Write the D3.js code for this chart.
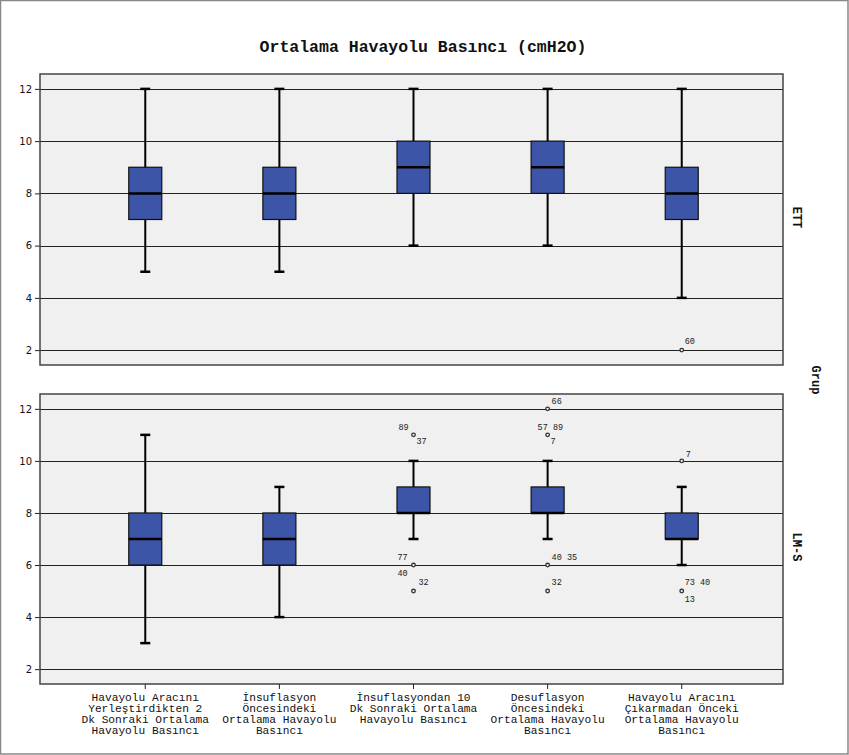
<!DOCTYPE html>
<html><head><meta charset="utf-8">
<script src="https://cdn.jsdelivr.net/npm/d3@7"></script>
<style>body{margin:0;background:#fff}svg{display:block}</style>
</head><body><svg id="c" width="849" height="755"></svg>
<script>
const title = "Ortalama Havayolu Basıncı (cmH2O)";
const categories = [
  ["Havayolu Aracını","Yerleştirdikten 2","Dk Sonraki Ortalama","Havayolu Basıncı"],
  ["İnsuflasyon","Öncesindeki","Ortalama Havayolu","Basıncı"],
  ["İnsuflasyondan 10","Dk Sonraki Ortalama","Havayolu Basıncı"],
  ["Desuflasyon","Öncesindeki","Ortalama Havayolu","Basıncı"],
  ["Havayolu Aracını","Çıkarmadan Önceki","Ortalama Havayolu","Basıncı"]
];
const groups = ["ETT","LM-S"];
const groupTitle = "Grup";
const yTicks = [2,4,6,8,10,12];
// [whiskerLow, q1, median, q3, whiskerHigh]
const ettStats = [[5,7,8,9,12],[5,7,8,9,12],[6,8,9,10,12],[6,8,9,10,12],[4,7,8,9,12]];
const lmsStats = [[3,6,7,8,11],[4,6,7,8,9],[7,8,8,9,10],[7,8,8,9,10],[6,7,7,8,9]];
// outliers: [categoryIndex, value, labelsAbove, labelsBelow]
const ettOutliers = [[4,2,"60",""]];
const lmsOutliers = [
  [2,11,"89","37"],[2,6,"77","40"],[2,5,"32",""],
  [3,12,"66",""],[3,11,"57 89","7"],[3,6,"40 35",""],[3,5,"32",""],
  [4,10,"7",""],[4,5,"73 40","13"]
];
// label offsets (layout only)
const labelLayout = {
  "0-4-2":{a:[3,-6]},
  "1-2-11":{a:[-15,-5],b:[3,9]},
  "1-2-6":{a:[-16,-5],b:[-16,11]},
  "1-2-5":{a:[5,-6]},
  "1-3-12":{a:[4,-5]},
  "1-3-11":{a:[-10,-5],b:[3,9]},
  "1-3-6":{a:[4,-5]},
  "1-3-5":{a:[4,-6]},
  "1-4-10":{a:[4,-4]},
  "1-4-5":{a:[3,-6],b:[3,11]}
};

const svg = d3.select("#c");
const mono = "'Liberation Mono','DejaVu Sans Mono',monospace";
svg.append("rect").attr("x",0.5).attr("y",0.5).attr("width",847.5).attr("height",753.5)
  .attr("fill","#fff").attr("stroke","#888").attr("stroke-width",1.5);

svg.append("text").attr("x",423).attr("y",52).attr("text-anchor","middle")
  .attr("font-family",mono).attr("font-weight","bold").attr("font-size",16.5).attr("fill","#111").text(title);

const left=40,right=783;
const x = d3.scalePoint().domain(d3.range(categories.length)).range([left+2,right+2]).padding(0.77);
const panels=[{top:74,bottom:365,stats:ettStats,out:ettOutliers},{top:394,bottom:684,stats:lmsStats,out:lmsOutliers}];
const boxW=33, capW=10;

panels.forEach((p,gi)=>{
  const y = d3.scaleLinear().domain([1.43,12.57]).range([p.bottom,p.top]);
  const g = svg.append("g");
  g.append("rect").attr("x",left).attr("y",p.top).attr("width",right-left).attr("height",p.bottom-p.top)
    .attr("fill","#f0f0f0");
  g.selectAll(".grid").data(yTicks).join("line")
    .attr("x1",left).attr("x2",right).attr("y1",d=>Math.round(y(d))+0.5).attr("y2",d=>Math.round(y(d))+0.5)
    .attr("stroke","#222").attr("stroke-width",1);
  const ax = g.append("g").attr("transform",`translate(${left},0)`)
    .call(d3.axisLeft(y).tickValues(yTicks).tickSize(5).tickPadding(3));
  ax.select(".domain").remove();
  ax.selectAll("text").attr("font-family","'DejaVu Sans',sans-serif").attr("font-size",10).attr("fill","#111");
  ax.selectAll("line").attr("stroke","#222");
  p.stats.forEach((s,i)=>{
    const cx = x(i);
    g.append("line").attr("x1",cx).attr("x2",cx).attr("y1",y(s[0])).attr("y2",y(s[4]))
      .attr("stroke","#000").attr("stroke-width",2);
    [s[0],s[4]].forEach(v=>g.append("line").attr("x1",cx-capW/2).attr("x2",cx+capW/2)
      .attr("y1",y(v)).attr("y2",y(v)).attr("stroke","#000").attr("stroke-width",2.5));
    g.append("rect").attr("x",cx-boxW/2).attr("y",y(s[3])).attr("width",boxW).attr("height",y(s[1])-y(s[3]))
      .attr("fill","#3d55a6").attr("stroke","#111").attr("stroke-width",1.2);
    g.append("line").attr("x1",cx-boxW/2).attr("x2",cx+boxW/2).attr("y1",y(s[2])).attr("y2",y(s[2]))
      .attr("stroke","#000").attr("stroke-width",2.5);
  });
  p.out.forEach(o=>{
    const cx=x(o[0]), cy=y(o[1]);
    g.append("circle").attr("cx",cx).attr("cy",cy).attr("r",1.8)
      .attr("fill","#f0f0f0").attr("stroke","#333").attr("stroke-width",1.3);
    const L = labelLayout[`${gi}-${o[0]}-${o[1]}`]||{};
    if(o[2]&&L.a) g.append("text").attr("x",cx+L.a[0]).attr("y",cy+L.a[1]).text(o[2])
      .attr("font-family",mono).attr("font-size",8.5).attr("fill","#222");
    if(o[3]&&L.b) g.append("text").attr("x",cx+L.b[0]).attr("y",cy+L.b[1]).text(o[3])
      .attr("font-family",mono).attr("font-size",8.5).attr("fill","#222");
  });
  g.append("rect").attr("x",left).attr("y",p.top).attr("width",right-left).attr("height",p.bottom-p.top)
    .attr("fill","none").attr("stroke","#444").attr("stroke-width",1.5);
  const cy=(p.top+p.bottom)/2 - (gi===0?2:-8);
  svg.append("text").attr("transform",`translate(793,${cy}) rotate(90)`).attr("text-anchor","middle")
    .attr("font-family",mono).attr("font-weight","bold").attr("font-size",12).attr("fill","#111").text(groups[gi]);
});
svg.append("text").attr("transform",`translate(812,380) rotate(90)`).attr("text-anchor","middle")
  .attr("font-family",mono).attr("font-weight","bold").attr("font-size",12).attr("fill","#111").text(groupTitle);

const xb = 684;
categories.forEach((lines,i)=>{
  const cx=x(i);
  svg.append("line").attr("x1",cx).attr("x2",cx).attr("y1",xb).attr("y2",xb+5).attr("stroke","#222");
  lines.forEach((t,j)=>svg.append("text").attr("x",cx).attr("y",xb+17+j*11).attr("text-anchor","middle")
    .attr("font-family",mono).attr("font-size",11.2).attr("fill","#111").text(t));
});
</script></body></html>
